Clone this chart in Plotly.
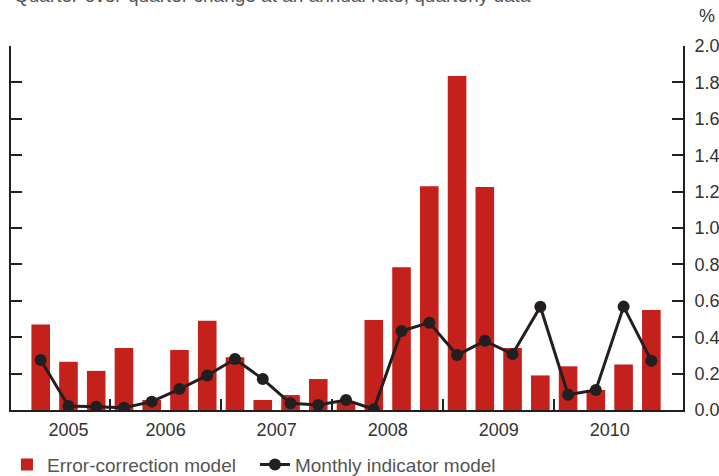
import plotly.graph_objects as go

# Quarters 2005Q2 .. 2010Q4
quarters = ["2005Q2", "2005Q3", "2005Q4",
            "2006Q1", "2006Q2", "2006Q3", "2006Q4",
            "2007Q1", "2007Q2", "2007Q3", "2007Q4",
            "2008Q1", "2008Q2", "2008Q3", "2008Q4",
            "2009Q1", "2009Q2", "2009Q3", "2009Q4",
            "2010Q1", "2010Q2", "2010Q3", "2010Q4"]
error_correction = [0.47, 0.265, 0.215, 0.34,
                    0.055, 0.33, 0.49, 0.29,
                    0.055, 0.082, 0.17, 0.045,
                    0.495, 0.785, 1.23, 1.835,
                    1.225, 0.34, 0.19, 0.24,
                    0.11, 0.25, 0.55]
monthly_indicator = [0.275, 0.022, 0.018, 0.012,
                     0.046, 0.115, 0.19, 0.28,
                     0.17, 0.037, 0.027, 0.055,
                     0.004, 0.434, 0.48, 0.302,
                     0.38, 0.307, 0.567, 0.084,
                     0.11, 0.568, 0.27]
years = ["2005", "2006", "2007", "2008", "2009", "2010"]
y_ticks = [0.0, 0.2, 0.4, 0.6, 0.8, 1.0, 1.2, 1.4, 1.6, 1.8, 2.0]

# quarter index: 2005Q1 = 0
def qindex(q):
    return (int(q[:4]) - 2005) * 4 + int(q[-1]) - 1

xs = [qindex(q) for q in quarters]
year_pos = []
for y in years:
    idx = [qindex(q) for q in quarters if q.startswith(y)]
    year_pos.append(sum(idx) / len(idx))
boundaries = [(int(y) - 2005) * 4 - 0.5 for y in years[1:]]

RED = "#c4201c"
DARK = "#231f20"

fig = go.Figure()
fig.add_trace(go.Bar(x=xs, y=error_correction, name="Error-correction model",
                     marker=dict(color=RED, line=dict(width=0)), width=0.67,
                     legend="legend"))
fig.add_trace(go.Scatter(x=xs, y=monthly_indicator, name="Monthly indicator model",
                         mode="lines+markers",
                         line=dict(color=DARK, width=3),
                         marker=dict(color=DARK, size=12),
                         legend="legend2"))
# invisible trace to carry the boundary ticks axis
fig.add_trace(go.Scatter(x=[xs[0]], y=[0], xaxis="x2", mode="markers",
                         marker=dict(opacity=0), showlegend=False, hoverinfo="skip"))

xr = [-0.07, 24.14]
legend_font = dict(size=19, color="#555555", family="Liberation Sans, Arial, sans-serif")
fig.update_layout(
    width=719, height=476,
    margin=dict(l=11, r=36, t=46, b=66, autoexpand=False),
    paper_bgcolor="white", plot_bgcolor="white",
    font=dict(family="Liberation Sans, Arial, sans-serif", color="#333333", size=18),
    showlegend=True,
    legend=dict(orientation="h", x=-0.006, xanchor="left", y=-0.15, yanchor="middle",
                font=legend_font, itemwidth=30, bgcolor="rgba(0,0,0,0)"),
    legend2=dict(orientation="h", x=0.363, xanchor="left", y=-0.15, yanchor="middle",
                 font=legend_font, itemwidth=30, bgcolor="rgba(0,0,0,0)"),
    xaxis=dict(range=xr, tickmode="array", tickvals=year_pos, ticktext=years,
               ticks="", showgrid=False, zeroline=False, automargin=False,
               showline=True, linecolor=DARK, linewidth=2,
               ticklabelstandoff=2),
    xaxis2=dict(range=xr, overlaying="x", side="bottom", tickmode="array",
                tickvals=boundaries, ticks="inside", ticklen=11, tickwidth=2,
                tickcolor=DARK, showticklabels=False, showgrid=False,
                zeroline=False, showline=False, automargin=False),
    yaxis=dict(range=[0, 2.0], side="right", tickmode="array", tickvals=y_ticks,
               ticktext=[f"{v:.1f}" for v in y_ticks], automargin=False,
               ticks="inside", ticklen=11, tickwidth=2, tickcolor=DARK,
               showline=True, linecolor=DARK, linewidth=2, mirror="ticks",
               showgrid=False, zeroline=False, ticklabelstandoff=6),
    bargap=0.3,
)
fig.add_annotation(text="Quarter-over-quarter change at an annual rate, quarterly data",
                   xref="paper", yref="paper", x=0, y=1, xanchor="left", yanchor="bottom",
                   xshift=1, yshift=38, showarrow=False,
                   font=dict(size=19, color="#555555"))
fig.add_annotation(text="%", xref="paper", yref="paper", x=1.036, y=1,
                   xanchor="center", yanchor="middle", yshift=30, showarrow=False,
                   font=dict(size=18, color="#333333"))

fig.write_html("out.html", config={"displayModeBar": False},
               post_script="document.body.style.margin='0';document.body.style.overflow='hidden';")
